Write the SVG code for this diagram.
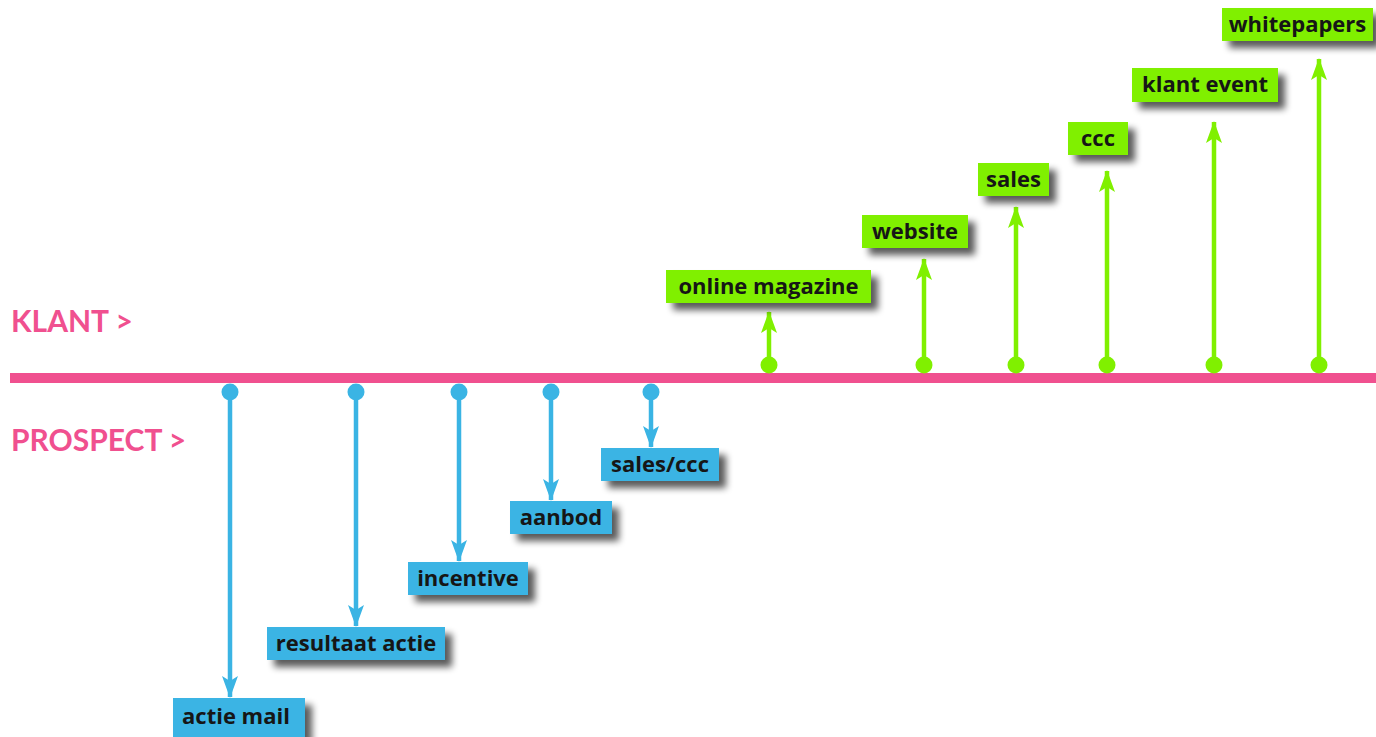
<svg xmlns="http://www.w3.org/2000/svg" width="1376" height="737" viewBox="0 0 1376 737">
<defs>
<filter id="sh" x="-20%" y="-30%" width="150%" height="180%">
<feGaussianBlur in="SourceAlpha" stdDeviation="3.5"/>
<feOffset dx="7" dy="7" result="o"/>
<feComponentTransfer><feFuncA type="linear" slope="0.65"/></feComponentTransfer>
<feMerge><feMergeNode/><feMergeNode in="SourceGraphic"/></feMerge>
</filter>
<marker id="ag" viewBox="0 0 22 18" refX="21" refY="9" markerWidth="22" markerHeight="18" markerUnits="userSpaceOnUse" orient="auto">
<path d="M22 9 L0 1 L5 9 L0 17 Z" fill="#80f000"/>
</marker>
<marker id="ab" viewBox="0 0 22 18" refX="21" refY="9" markerWidth="22" markerHeight="18" markerUnits="userSpaceOnUse" orient="auto">
<path d="M22 9 L0 1 L5 9 L0 17 Z" fill="#3ab4e4"/>
</marker>
</defs>
<style>
.lbl{font-family:"Open Sans","Lato",sans-serif;font-weight:bold;font-size:22px;fill:#161616;text-anchor:middle}
.side{font-family:"Lato","Open Sans",sans-serif;font-weight:bold;font-size:30px;fill:#f0508f}
.g rect{fill:#80f000}
.b rect{fill:#3ab4e4}
.cg{stroke:#80f000;stroke-width:4.5;fill:none}
.cb{stroke:#3ab4e4;stroke-width:4.5;fill:none}
.dg{fill:#80f000}
.db{fill:#3ab4e4}
</style>
<rect width="1376" height="737" fill="#ffffff"/>
<text class="side" x="11" y="332">KLANT &gt;</text>
<text class="side" x="11" y="451">PROSPECT &gt;</text>
<g id="connectors">
<line x1="10" y1="378" x2="1376" y2="378" stroke="#f0508f" stroke-width="10"/>
<line class="cg" x1="769" y1="365" x2="769" y2="312" marker-end="url(#ag)"/>
<line class="cg" x1="924" y1="365" x2="924" y2="259" marker-end="url(#ag)"/>
<line class="cg" x1="1016" y1="365" x2="1016" y2="207" marker-end="url(#ag)"/>
<line class="cg" x1="1107" y1="365" x2="1107" y2="171" marker-end="url(#ag)"/>
<line class="cg" x1="1214" y1="365" x2="1214" y2="122" marker-end="url(#ag)"/>
<line class="cg" x1="1319" y1="365" x2="1319" y2="59" marker-end="url(#ag)"/>
<circle class="dg" cx="769" cy="365" r="8.5"/>
<circle class="dg" cx="924" cy="365" r="8.5"/>
<circle class="dg" cx="1016" cy="365" r="8.5"/>
<circle class="dg" cx="1107" cy="365" r="8.5"/>
<circle class="dg" cx="1214" cy="365" r="8.5"/>
<circle class="dg" cx="1319" cy="365" r="8.5"/>
<line class="cb" x1="230" y1="392" x2="230" y2="697" marker-end="url(#ab)"/>
<line class="cb" x1="356" y1="392" x2="356" y2="626" marker-end="url(#ab)"/>
<line class="cb" x1="459" y1="392" x2="459" y2="561" marker-end="url(#ab)"/>
<line class="cb" x1="551" y1="392" x2="551" y2="500" marker-end="url(#ab)"/>
<line class="cb" x1="651" y1="392" x2="651" y2="447" marker-end="url(#ab)"/>
<circle class="db" cx="230" cy="392" r="8.5"/>
<circle class="db" cx="356" cy="392" r="8.5"/>
<circle class="db" cx="459" cy="392" r="8.5"/>
<circle class="db" cx="551" cy="392" r="8.5"/>
<circle class="db" cx="651" cy="392" r="8.5"/>
</g>
<g id="online-magazine" class="g"><rect x="666" y="270" width="205" height="33" filter="url(#sh)"/><text class="lbl" x="768.5" y="294">online magazine</text></g>
<g id="website" class="g"><rect x="862" y="215" width="106" height="33" filter="url(#sh)"/><text class="lbl" x="915" y="239">website</text></g>
<g id="sales" class="g"><rect x="978" y="163" width="71" height="33" filter="url(#sh)"/><text class="lbl" x="1013.5" y="187">sales</text></g>
<g id="ccc" class="g"><rect x="1068" y="122" width="60" height="33" filter="url(#sh)"/><text class="lbl" x="1098" y="146">ccc</text></g>
<g id="klant-event" class="g"><rect x="1132" y="68" width="146" height="34" filter="url(#sh)"/><text class="lbl" x="1205" y="92">klant event</text></g>
<g id="whitepapers" class="g"><rect x="1222" y="8" width="151" height="33" filter="url(#sh)"/><text class="lbl" x="1297.5" y="32">whitepapers</text></g>
<g id="sales-ccc" class="b"><rect x="601" y="448" width="118" height="33" filter="url(#sh)"/><text class="lbl" x="660" y="472">sales/ccc</text></g>
<g id="aanbod" class="b"><rect x="510" y="501" width="102" height="33" filter="url(#sh)"/><text class="lbl" x="561" y="525">aanbod</text></g>
<g id="incentive" class="b"><rect x="408" y="562" width="120" height="33" filter="url(#sh)"/><text class="lbl" x="468" y="586">incentive</text></g>
<g id="resultaat-actie" class="b"><rect x="267" y="627" width="178" height="33" filter="url(#sh)"/><text class="lbl" x="356" y="651">resultaat actie</text></g>
<g id="actie-mail" class="b"><rect x="173" y="698" width="132" height="39" filter="url(#sh)"/><text class="lbl" x="236" y="724">actie mail</text></g>
</svg>
